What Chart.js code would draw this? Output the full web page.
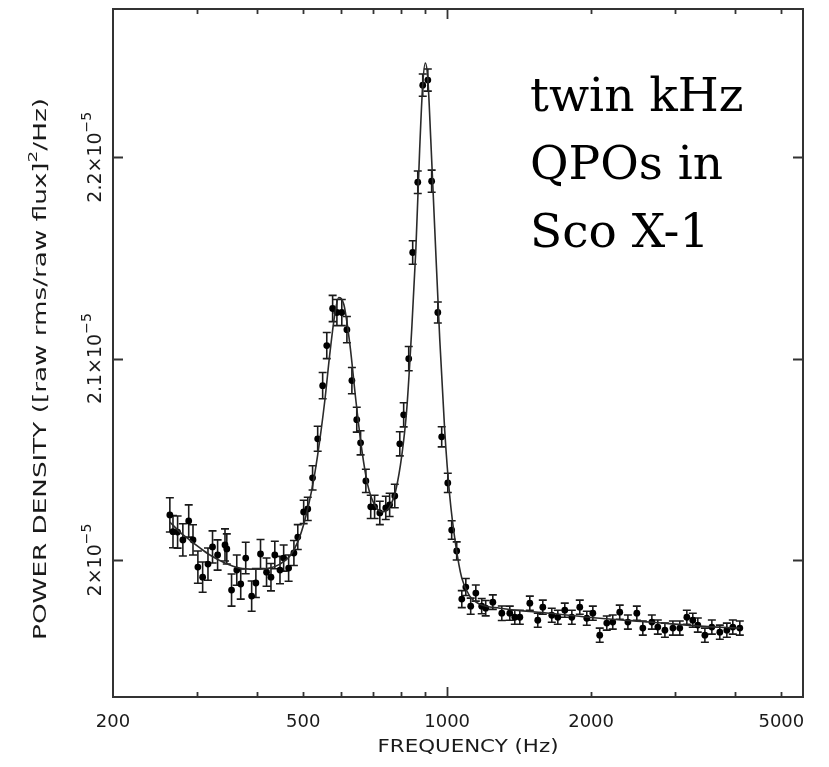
<!DOCTYPE html>
<html lang="en">
<head>
<meta charset="UTF-8">
<title>twin kHz QPOs in Sco X-1</title>
<script src="https://cdn.jsdelivr.net/npm/chart.js"></script>
<style>
  html, body { margin: 0; padding: 0; background: #fff; }
  #wrap { position: relative; width: 829px; height: 767px; }
</style>
</head>
<body>
<div id="wrap"><canvas id="psd" width="829" height="767"></canvas></div>
<script>
// measured power spectrum, power in units of 1e-5 (raw rms/raw flux)^2/Hz
const freq = [263, 267, 273, 280, 288, 294, 301, 308, 316, 323, 331, 343, 346, 354, 363, 370, 379, 390, 398, 407,
  419, 428, 436, 447, 455, 466, 478, 487, 501, 511, 523, 536, 549, 560, 576, 588, 602, 617, 632, 647,
  659, 676, 692, 705, 723, 744, 758, 777, 796, 811, 831, 847, 868, 889, 911, 928, 956, 974, 1003, 1022,
  1047, 1073, 1094, 1120, 1148, 1181, 1204, 1246, 1301, 1352, 1385, 1419, 1489, 1547, 1585, 1655, 1704, 1762, 1823, 1894,
  1959, 2017, 2085, 2157, 2220, 2296, 2388, 2493, 2566, 2680, 2758, 2854, 2966, 3066, 3172, 3264, 3344, 3460, 3578, 3718,
  3846, 3958, 4094];
const power = [2.0224, 2.0141, 2.0139, 2.0100, 2.0194, 2.0100, 1.9965, 1.9915, 1.9980, 2.0065, 2.0025, 2.0075, 2.0055, 1.9851, 1.9950, 1.9881, 2.0010, 1.9821, 1.9886, 2.0030,
  1.9940, 1.9915, 2.0025, 1.9950, 2.0010, 1.9960, 2.0035, 2.0114, 2.0239, 2.0254, 2.0408, 2.0602, 2.0866, 2.1065, 2.1249, 2.1229, 2.1229, 2.1144, 2.0891, 2.0697,
  2.0582, 2.0393, 2.0264, 2.0264, 2.0234, 2.0259, 2.0274, 2.0318, 2.0577, 2.0721, 2.1000, 2.1527, 2.1876, 2.2358, 2.2383, 2.1881, 2.1229, 2.0612, 2.0383, 2.0149,
  2.0045, 1.9806, 1.9866, 1.9771, 1.9836, 1.9771, 1.9761, 1.9791, 1.9736, 1.9736, 1.9716, 1.9716, 1.9786, 1.9701, 1.9766, 1.9726, 1.9716, 1.9751, 1.9716, 1.9766,
  1.9711, 1.9736, 1.9627, 1.9687, 1.9692, 1.9741, 1.9692, 1.9736, 1.9662, 1.9692, 1.9667, 1.9652, 1.9662, 1.9662, 1.9716, 1.9701, 1.9677, 1.9627, 1.9667, 1.9642,
  1.9652, 1.9667, 1.9662];
const powerErr = [0.0085, 0.0080, 0.0080, 0.0080, 0.0080, 0.0075, 0.0080, 0.0075, 0.0080, 0.0080, 0.0075, 0.0080, 0.0075, 0.0080, 0.0075, 0.0075, 0.0078, 0.0075, 0.0072, 0.0072,
  0.0070, 0.0068, 0.0068, 0.0068, 0.0065, 0.0065, 0.0062, 0.0062, 0.0058, 0.0058, 0.0060, 0.0062, 0.0065, 0.0065, 0.0065, 0.0065, 0.0065, 0.0065, 0.0065, 0.0062,
  0.0060, 0.0058, 0.0058, 0.0058, 0.0058, 0.0058, 0.0058, 0.0058, 0.0060, 0.0060, 0.0060, 0.0058, 0.0056, 0.0055, 0.0055, 0.0055, 0.0052, 0.0050, 0.0048, 0.0046,
  0.0045, 0.0042, 0.0042, 0.0040, 0.0040, 0.0038, 0.0038, 0.0036, 0.0036, 0.0035, 0.0035, 0.0035, 0.0035, 0.0035, 0.0035, 0.0035, 0.0035, 0.0035, 0.0035, 0.0035,
  0.0035, 0.0035, 0.0035, 0.0035, 0.0035, 0.0035, 0.0035, 0.0035, 0.0035, 0.0035, 0.0035, 0.0035, 0.0035, 0.0035, 0.0035, 0.0035, 0.0035, 0.0035, 0.0035, 0.0035,
  0.0035, 0.0035, 0.0035];

// fitted model curve (continuum + two lorentzians)
const modelFreq = [263, 276, 289, 304, 319, 343, 368, 396, 425, 447, 469, 487, 504, 521, 536, 555, 568, 582, 593, 608,
  626, 644, 663, 682, 705, 733, 758, 781, 804, 823, 843, 860, 876, 889, 900, 911, 924, 942, 965, 988,
  1012, 1042, 1073, 1115, 1170, 1288, 1639, 2085, 2654, 3376, 4094];
const modelPower = [2.0189, 2.0139, 2.0100, 2.0060, 2.0025, 1.9985, 1.9960, 1.9955, 1.9960, 1.9980, 2.0020, 2.0090, 2.0199, 2.0348, 2.0522, 2.0796, 2.1020, 2.1219, 2.1303, 2.1269,
  2.1070, 2.0796, 2.0547, 2.0373, 2.0274, 2.0239, 2.0264, 2.0348, 2.0522, 2.0746, 2.1144, 2.1542, 2.2040, 2.2360, 2.2468, 2.2390, 2.2090, 2.1642, 2.1095, 2.0647,
  2.0323, 2.0075, 1.9910, 1.9821, 1.9781, 1.9761, 1.9736, 1.9711, 1.9692, 1.9672, 1.9662];

const xTickLabels = [200, 500, 1000, 2000, 5000];
const xMinorTicks = [300, 400, 500, 600, 700, 800, 900, 2000, 3000, 4000, 5000];
const xMajorTicks = [1000];
const yTicks = [2.0, 2.1, 2.2];
const yTickText = ['2', '2.1', '2.2'];

const INK = '#1a1a1a';
const LABEL_FONT = '"DejaVu Sans", sans-serif';

// draw text with a raised small piece, centered on (0,0) of the current transform
function drawWithSup(ctx, parts, size, stretch) {
  let total = 0;
  const widths = parts.map(p => {
    ctx.font = (p.sup ? Math.round(size * 0.72) : size) + 'px ' + LABEL_FONT;
    const w = ctx.measureText(p.text).width;
    total += w;
    return w;
  });
  ctx.save();
  ctx.scale(stretch, 1);
  let cx = -total / 2;
  ctx.textAlign = 'left';
  ctx.textBaseline = 'middle';
  parts.forEach((p, i) => {
    ctx.font = (p.sup ? Math.round(size * 0.72) : size) + 'px ' + LABEL_FONT;
    ctx.fillText(p.text, cx, p.sup ? -size * 0.45 : 0);
    cx += widths[i];
  });
  ctx.restore();
  return total;
}

const pgplotAxes = {
  id: 'pgplotAxes',
  beforeDatasetsDraw(chart) {
    // error bars go under the markers
    const { ctx, scales: { x, y } } = chart;
    ctx.save();
    ctx.strokeStyle = INK;
    ctx.lineWidth = 1.6;
    ctx.beginPath();
    for (let i = 0; i < freq.length; i++) {
      const px = x.getPixelForValue(freq[i]);
      const top = y.getPixelForValue(power[i] + powerErr[i]);
      const bot = y.getPixelForValue(power[i] - powerErr[i]);
      ctx.moveTo(px, top); ctx.lineTo(px, bot);
      ctx.moveTo(px - 4, top); ctx.lineTo(px + 4, top);
      ctx.moveTo(px - 4, bot); ctx.lineTo(px + 4, bot);
    }
    ctx.stroke();
    ctx.restore();
  },
  afterDraw(chart) {
    const { ctx, chartArea: a, scales: { x, y } } = chart;
    ctx.save();
    // frame
    ctx.strokeStyle = '#333';
    ctx.lineWidth = 2;
    ctx.strokeRect(a.left, a.top, a.right - a.left, a.bottom - a.top);

    // ticks on all four sides, pointing in
    ctx.lineWidth = 1.8;
    ctx.beginPath();
    const xt = (v, len) => {
      const px = Math.round(x.getPixelForValue(v)) + 0.5;
      ctx.moveTo(px, a.bottom); ctx.lineTo(px, a.bottom - len);
      ctx.moveTo(px, a.top); ctx.lineTo(px, a.top + len);
    };
    xMinorTicks.forEach(v => xt(v, 5));
    xMajorTicks.forEach(v => xt(v, 10));
    yTicks.forEach(v => {
      const py = Math.round(y.getPixelForValue(v)) + 0.5;
      ctx.moveTo(a.left, py); ctx.lineTo(a.left + 10, py);
      ctx.moveTo(a.right, py); ctx.lineTo(a.right - 10, py);
    });
    ctx.stroke();

    // x tick labels
    ctx.fillStyle = INK;
    xTickLabels.forEach(v => {
      ctx.save();
      ctx.translate(x.getPixelForValue(v), 722);
      drawWithSup(ctx, [{ text: String(v) }], 18, 1.0);
      ctx.restore();
    });

    // y tick labels, rotated
    yTicks.forEach((v, i) => {
      ctx.save();
      ctx.translate(96, y.getPixelForValue(v));
      ctx.rotate(-Math.PI / 2);
      drawWithSup(ctx, [{ text: yTickText[i] + '\u00d710' }, { text: '\u22125', sup: true }], 19, 1.0);
      ctx.restore();
    });

    // axis titles
    ctx.save();
    ctx.translate(468, 748);
    ctx.font = '17px ' + LABEL_FONT;
    let w = ctx.measureText('FREQUENCY (Hz)').width;
    drawWithSup(ctx, [{ text: 'FREQUENCY (Hz)' }], 17, 181 / w);
    ctx.restore();

    ctx.save();
    ctx.translate(42, 369);
    ctx.rotate(-Math.PI / 2);
    const yParts = [{ text: 'POWER DENSITY ([raw rms/raw flux]' }, { text: '2', sup: true }, { text: '/Hz)' }];
    ctx.font = '17px ' + LABEL_FONT;
    w = ctx.measureText('POWER DENSITY ([raw rms/raw flux]/Hz)').width + ctx.measureText('2').width * 0.72;
    drawWithSup(ctx, yParts, 17, 542 / w);
    ctx.restore();

    // annotation
    ctx.fillStyle = '#000';
    ctx.font = '47px "DejaVu Serif", serif';
    ctx.textAlign = 'left';
    ctx.textBaseline = 'alphabetic';
    ctx.fillText('twin kHz', 530, 111);
    ctx.fillText('QPOs in', 530, 179);
    ctx.fillText('Sco X-1', 530, 247);
    ctx.restore();
  }
};

new Chart(document.getElementById('psd'), {
  data: {
    datasets: [
      {
        type: 'line',
        label: 'model',
        data: modelFreq.map((f, i) => ({ x: f, y: modelPower[i] })),
        borderColor: '#2a2a2a',
        borderWidth: 1.6,
        pointRadius: 0,
        cubicInterpolationMode: 'monotone',
        fill: false
      },
      {
        type: 'scatter',
        label: 'data',
        data: freq.map((f, i) => ({ x: f, y: power[i] })),
        backgroundColor: '#000',
        borderColor: '#000',
        pointRadius: 3.4,
        pointBorderWidth: 0
      }
    ]
  },
  options: {
    responsive: false,
    animation: false,
    layout: { padding: { left: 113, right: 26, top: 9, bottom: 70 } },
    plugins: { legend: { display: false }, tooltip: { enabled: false } },
    scales: {
      x: { type: 'logarithmic', min: 200, max: 5550, display: false },
      y: { type: 'linear', min: 1.932, max: 2.2736, display: false }
    }
  },
  plugins: [pgplotAxes]
});
</script>
</body>
</html>
